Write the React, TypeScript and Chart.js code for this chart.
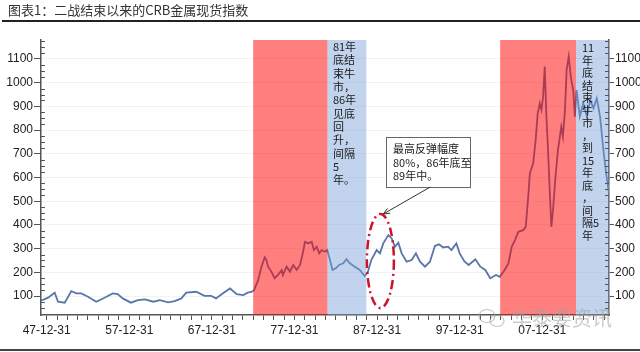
import React, { useEffect, useRef } from "react";
import { Chart, registerables } from "chart.js";
Chart.register(...registerables);

const title = "图表1：二战结束以来的CRB金属现货指数";

const years = [
  1947.31, 1948.16, 1948.97, 1949.37, 1950.18, 1950.98, 1951.58, 1952.19, 1953.0, 1954.0,
  1955.0, 1956.0, 1956.6, 1957.2, 1958.2, 1959.05, 1959.9, 1960.9, 1961.7, 1962.7,
  1963.5, 1964.3, 1964.9, 1966.1, 1967.1, 1967.9, 1968.5, 1969.3, 1970.2, 1971.0,
  1971.8, 1972.4, 1972.8, 1973.1, 1973.6, 1974.0, 1974.4, 1974.6, 1974.8, 1975.2,
  1975.6, 1976.0, 1976.45, 1976.6, 1977.05, 1977.45, 1977.85, 1978.27, 1978.67, 1979.0,
  1979.27, 1979.67, 1980.08, 1980.36, 1980.69, 1981.0, 1981.29, 1981.69, 1981.97, 1982.3,
  1982.6, 1983.0, 1983.4, 1983.9, 1984.3, 1984.7, 1985.3, 1985.9, 1986.5, 1986.9,
  1987.3, 1987.95, 1988.35, 1988.75, 1989.36, 1989.77, 1990.17, 1990.57, 1990.98, 1991.58,
  1992.19, 1992.7, 1993.2, 1993.8, 1994.4, 1995.0, 1995.5, 1996.0, 1996.6, 1997.0,
  1997.6, 1998.0, 1998.6, 1999.1, 1999.9, 2000.5, 2001.1, 2001.7, 2002.4, 2002.85,
  2003.45, 2003.9, 2004.3, 2004.7, 2005.1, 2005.7, 2006.0, 2006.3, 2006.5, 2006.9,
  2007.2, 2007.45, 2007.7, 2007.9, 2008.1, 2008.3, 2008.5, 2008.7, 2008.9, 2009.1,
  2009.3, 2009.6, 2009.9, 2010.3, 2010.5, 2010.75, 2010.95, 2011.2, 2011.45, 2011.75,
  2011.95, 2012.15, 2012.55, 2012.96, 2013.4, 2013.8, 2014.2, 2014.6, 2015.0, 2015.4,
  2015.8, 2016.05,
];

const values = [
  80, 93, 114, 76, 72, 121, 111, 111, 97, 76,
  93, 111, 108, 90, 72, 83, 86, 76, 83, 73,
  79, 90, 114, 118, 101, 101, 90, 111, 132, 108,
  104, 115, 117, 125, 167, 224, 263, 252, 224, 203,
  175, 189, 210, 189, 224, 203, 231, 210, 231, 280,
  329, 322, 329, 294, 308, 280, 294, 287, 294, 252,
  210, 217, 231, 238, 255, 238, 224, 210, 184, 203,
  252, 294, 280, 322, 357, 343, 308, 325, 280, 245,
  252, 280, 245, 224, 245, 311, 318, 305, 308, 294,
  322, 280, 245, 231, 255, 224, 210, 175, 189, 181,
  210, 238, 308, 336, 371, 378, 392, 519, 618, 660,
  758, 871, 913, 885, 941, 1068, 857, 716, 547, 392,
  463, 603, 716, 814, 772, 885, 1054, 1110, 1025, 969,
  857, 969, 857, 913, 857, 927, 892, 934, 857, 716,
  600, 540,
];

const yTickValues = [100, 200, 300, 400, 500, 600, 700, 800, 900, 1000, 1100];
const xLabelYears = [1948, 1958, 1968, 1978, 1988, 1998, 2008];

const bullPeriods = [
  [1973.0, 1982.0],
  [2002.9, 2012.1],
];
const bearPeriods = [
  [1982.0, 1986.7],
  [2012.1, 2016.08],
];

const note1Lines = ["81年", "底结", "束牛", "市，", "86年", "见底", "回", "升，", "间隔", "5", "年。"];
const note2Lines = ["11", "年", "底", "结", "束", "牛", "市", "，", "到", "15", "年", "底", "，", "间", "隔5", "年"];
const boxLines = ["最高反弹幅度", "80%，86年底至", "89年中。"];
const watermark = "华泰要资讯";

const X_MIN = 1947.31;
const X_MAX = 2016.08;
const Y_MIN = 20;
const Y_MAX = 1180;

const tickFont = { family: "'Liberation Sans', Arial, sans-serif", size: 12 };
const cjk = "'Noto Sans CJK SC', sans-serif";

function fmtYear(v: number) {
  const y = Math.round(v) - 1;
  const yy = String(y % 100).padStart(2, "0");
  return yy + "-12-31";
}

const overlayPlugin = {
  id: "overlay",
  afterDatasetsDraw(chart: any) {
    const { ctx, chartArea, scales } = chart;
    const xs = scales.x;
    const ys = scales.y;
    const px = (v: number) => xs.getPixelForValue(v);
    const py = (v: number) => ys.getPixelForValue(v);
    ctx.save();
    bullPeriods.forEach(([a, b]) => {
      ctx.fillStyle = "rgba(255,0,0,0.5)";
      ctx.fillRect(px(a), chartArea.top, px(b) - px(a), chartArea.bottom - chartArea.top);
    });
    bearPeriods.forEach(([a, b]) => {
      ctx.fillStyle = "rgba(120,160,215,0.45)";
      ctx.fillRect(px(a), chartArea.top, px(b) - px(a), chartArea.bottom - chartArea.top);
    });
    ctx.strokeStyle = "#555";
    ctx.lineWidth = 1;
    for (let v = 25; v < Y_MAX; v += 25) {
      if (v % 100 === 0) continue;
      const y = Math.round(py(v)) + 0.5;
      ctx.beginPath();
      ctx.moveTo(chartArea.left, y);
      ctx.lineTo(chartArea.left + 4, y);
      ctx.moveTo(chartArea.right, y);
      ctx.lineTo(chartArea.right - 4, y);
      ctx.stroke();
    }
    ctx.fillStyle = "#1a1a1a";
    ctx.font = "11px " + cjk;
    ctx.textBaseline = "middle";
    ctx.textAlign = "left";
    note1Lines.forEach((t, i) => {
      ctx.fillText(t, px(1982.65), chartArea.top + 7 + i * 13.3);
    });
    note2Lines.forEach((t, i) => {
      ctx.fillText(t, px(2012.8), chartArea.top + 8 + i * 12.5);
    });
    const bx0 = px(1989.08), bx1 = px(1999.25);
    const by0 = py(771), by1 = py(560);
    ctx.fillStyle = "#ffffff";
    ctx.fillRect(bx0, by0, bx1 - bx0, by1 - by0);
    ctx.strokeStyle = "#666";
    ctx.lineWidth = 1;
    ctx.strokeRect(Math.round(bx0) + 0.5, Math.round(by0) + 0.5, bx1 - bx0, by1 - by0);
    ctx.fillStyle = "#1a1a1a";
    boxLines.forEach((t, i) => {
      ctx.fillText(t, bx0 + 7, by0 + 12 + i * 13.5);
    });
    const ax0 = px(1994.45), ay0 = by1;
    const ax1 = px(1988.75), ay1 = py(446);
    ctx.strokeStyle = "#333";
    ctx.beginPath();
    ctx.moveTo(ax0, ay0);
    ctx.lineTo(ax1, ay1);
    ctx.stroke();
    const ang = Math.atan2(ay1 - ay0, ax1 - ax0);
    ctx.beginPath();
    ctx.moveTo(ax1, ay1);
    ctx.lineTo(ax1 - 7 * Math.cos(ang - 0.4), ay1 - 7 * Math.sin(ang - 0.4));
    ctx.moveTo(ax1, ay1);
    ctx.lineTo(ax1 - 7 * Math.cos(ang + 0.4), ay1 - 7 * Math.sin(ang + 0.4));
    ctx.stroke();
    ctx.strokeStyle = "rgb(200,20,45)";
    ctx.lineWidth = 2.5;
    ctx.setLineDash([9, 4, 2, 4]);
    ctx.beginPath();
    ctx.ellipse(px(1988.4), py(248), 13.5, 47, 0, 0, Math.PI * 2);
    ctx.stroke();
    ctx.setLineDash([]);
    ctx.restore();
  },
  afterDraw(chart: any) {
    const { ctx } = chart;
    ctx.save();
    ctx.strokeStyle = "rgba(160,160,160,0.6)";
    ctx.lineWidth = 1.2;
    ctx.beginPath();
    ctx.ellipse(487, 316, 8, 6.5, 0, 0, Math.PI * 2);
    ctx.stroke();
    ctx.beginPath();
    ctx.ellipse(497, 321, 7, 5.5, 0, 0, Math.PI * 2);
    ctx.stroke();
    ctx.fillStyle = "rgba(160,160,160,0.55)";
    ctx.font = "20px " + cjk;
    ctx.textBaseline = "middle";
    ctx.textAlign = "left";
    ctx.fillText(watermark, 512, 318);
    ctx.restore();
  },
};

export default function App() {
  const ref = useRef<HTMLCanvasElement | null>(null);
  useEffect(() => {
    if (!ref.current) return;
    const data = years.map((x, i) => ({ x, y: values[i] }));
    const yTicks = {
      padding: 1,
      font: tickFont,
      color: "#222",
      callback: (v: any) => String(v),
    };
    const chart = new Chart(ref.current, {
      type: "line",
      data: {
        datasets: [
          {
            data,
            borderColor: "rgb(88,118,168)",
            borderWidth: 1.8,
            pointRadius: 0,
            tension: 0,
            fill: false,
          },
        ],
      },
      options: {
        animation: false,
        responsive: false,
        devicePixelRatio: 1,
        layout: { padding: { top: 40, left: 0, right: 0, bottom: 0 } },
        plugins: { legend: { display: false }, tooltip: { enabled: false } },
        scales: {
          x: {
            type: "linear",
            min: X_MIN,
            max: X_MAX,
            afterBuildTicks: (s: any) => {
              const t = [];
              for (let k = 0; 1948 + k * 1.25 <= X_MAX; k++) t.push({ value: 1948 + k * 1.25 });
              s.ticks = t;
            },
            afterFit: (s: any) => {
              s.height = 37;
            },
            grid: { drawOnChartArea: false, tickLength: 5, color: "#555" },
            border: { color: "#555", width: 1.5 },
            ticks: {
              autoSkip: false,
              maxRotation: 0,
              padding: 3,
              font: tickFont,
              color: "#222",
              callback: (v: any) => {
                const n = Number(v);
                return xLabelYears.some((y) => Math.abs(y - n) < 1e-6) ? fmtYear(n) : "";
              },
            },
          },
          y: {
            position: "left",
            min: Y_MIN,
            max: Y_MAX,
            afterBuildTicks: (s: any) => {
              s.ticks = yTickValues.map((v) => ({ value: v }));
            },
            afterFit: (s: any) => {
              s.width = 41;
            },
            grid: { color: "rgba(0,0,0,0.05)", tickColor: "#555", tickLength: 7 },
            border: { color: "#555", width: 1.5 },
            ticks: yTicks,
          },
          y2: {
            position: "right",
            min: Y_MIN,
            max: Y_MAX,
            afterBuildTicks: (s: any) => {
              s.ticks = yTickValues.map((v) => ({ value: v }));
            },
            afterFit: (s: any) => {
              s.width = 31;
            },
            grid: { drawOnChartArea: false, tickColor: "#555", tickLength: 5 },
            border: { color: "#555", width: 1.5 },
            ticks: yTicks,
          },
        },
      } as any,
      plugins: [overlayPlugin],
    });
    return () => chart.destroy();
  }, []);

  return (
    <div style={{ position: "fixed", left: 0, top: 0, width: 640, height: 352, background: "#fff", overflow: "hidden" }}>
      <canvas ref={ref} width={640} height={352} style={{ position: "absolute", left: 0, top: 0, width: 640, height: 352 }} />
      <div
        style={{
          position: "absolute",
          left: 8,
          top: 2,
          fontFamily: cjk,
          fontSize: 13,
          lineHeight: "16px",
          color: "#333",
          whiteSpace: "nowrap",
        }}
      >
        {title}
      </div>
      <div style={{ position: "absolute", left: 2, top: 20, width: 638, height: 2, background: "#222" }} />
      <div style={{ position: "absolute", left: 0, top: 349, width: 640, height: 2, background: "#444" }} />
    </div>
  );
}
